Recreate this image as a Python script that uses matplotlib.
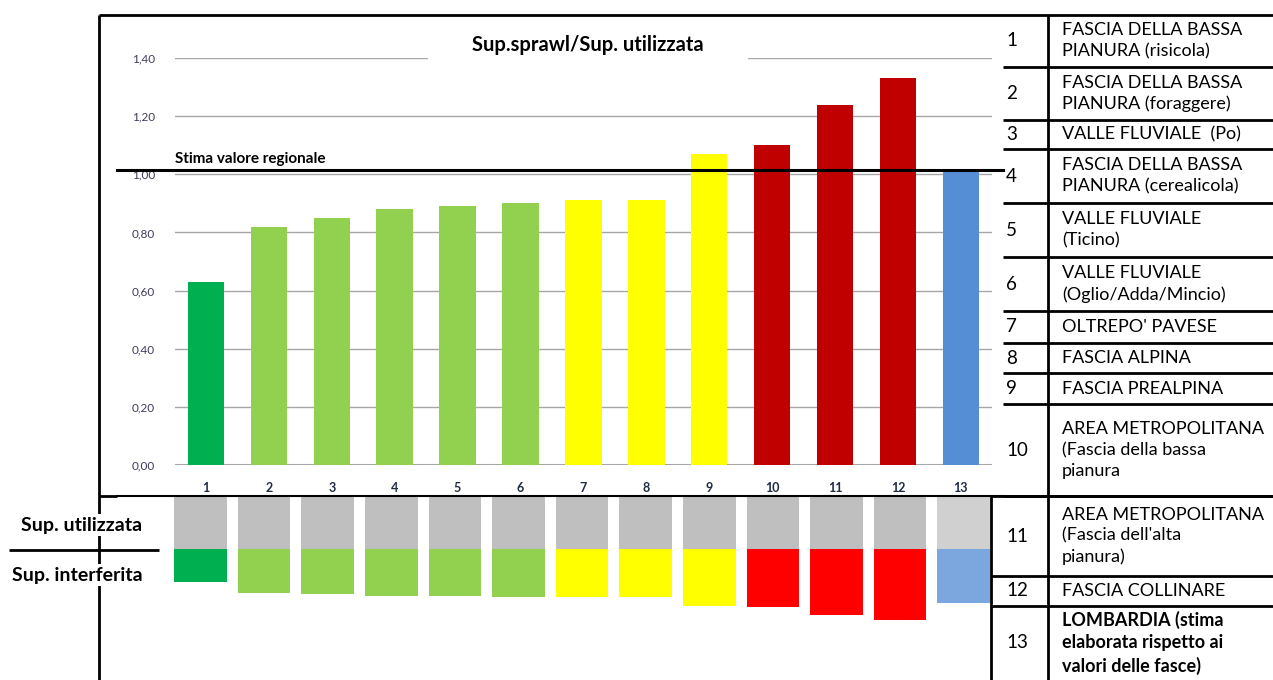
import numpy as np
import matplotlib
matplotlib.use('Agg')
import matplotlib.pyplot as plt
from matplotlib.patches import Rectangle

plt.rcParams['font.family'] = ['Lato', 'DejaVu Sans']

# data
zone_ids = [str(i) for i in range(1, 14)]
ratio = [0.63, 0.82, 0.85, 0.88, 0.89, 0.90, 0.91, 0.91, 1.07, 1.10, 1.24, 1.33, 1.01]
stima = 1.015
yticks = [0.0, 0.2, 0.4, 0.6, 0.8, 1.0, 1.2, 1.4]
bar_colors = ['#00b050'] + ['#92d050'] * 5 + ['#ffff00'] * 3 + ['#c00000'] * 3 + ['#558ed5']
block_colors = ['#00b050'] + ['#92d050'] * 5 + ['#ffff00'] * 3 + ['#ff0000'] * 3 + ['#7ba7de']
used_colors = ['#bfbfbf'] * 12 + ['#d0d0d0']
zone_names = [
    "FASCIA DELLA BASSA\nPIANURA (risicola)",
    "FASCIA DELLA BASSA\nPIANURA (foraggere)",
    "VALLE FLUVIALE  (Po)",
    "FASCIA DELLA BASSA\nPIANURA (cerealicola)",
    "VALLE FLUVIALE\n(Ticino)",
    "VALLE FLUVIALE\n(Oglio/Adda/Mincio)",
    "OLTREPO' PAVESE",
    "FASCIA ALPINA",
    "FASCIA PREALPINA",
    "AREA METROPOLITANA\n(Fascia della bassa\npianura",
    "AREA METROPOLITANA\n(Fascia dell'alta\npianura)",
    "FASCIA COLLINARE",
    "LOMBARDIA (stima\nelaborata rispetto ai\nvalori delle fasce)",
]

W, H = 1273, 680
fig = plt.figure(figsize=(W / 100, H / 100), dpi=100)


def rect(x0, y0, x1, y1):
    # pixel box (top-left origin) -> figure fraction
    return [x0 / W, 1 - y1 / H, (x1 - x0) / W, (y1 - y0) / H]


x = np.arange(1, 14)

# main bar chart
ax = fig.add_axes(rect(174.5, 58, 992.3, 465))
ax.bar(x, ratio, width=0.58, color=bar_colors, zorder=3)
ax.set_xlim(0.5, 13.5)
ax.set_ylim(0, 1.4)
ax.set_yticks(yticks)
ax.set_yticklabels([f"{v:.2f}".replace('.', ',') for v in yticks])
ax.set_xticks(x)
ax.set_xticklabels(zone_ids)
ax.yaxis.grid(True, color='#a6a6a6', lw=1, zorder=0)
ax.axhline(0, color='#a6a6a6', lw=2.2, zorder=2)
for s in ax.spines.values():
    s.set_visible(False)
ax.tick_params(axis='y', length=0, pad=14, labelsize=8.5, labelcolor='#3f3a5c')
ax.tick_params(axis='x', length=0, pad=12, labelsize=9, labelcolor='#1f2a44')
for t in ax.get_xticklabels():
    t.set_fontweight('bold')

ax.axhline(stima, xmin=-0.07, xmax=1.013, color='black', lw=2.2, clip_on=False, zorder=5)
ax.text(0.001, stima + 0.012, 'Stima valore regionale', transform=ax.get_yaxis_transform(),
        fontsize=11, fontweight='bold', va='bottom', ha='left')

# blocks: used surface (grey, up) and interfered surface (colour, down)
bx = fig.add_axes(rect(168.7, 496, 995.5, 626))
bx.bar(x, [1] * 13, width=0.83, color=used_colors)
bx.bar(x, [-v for v in ratio], width=0.83, color=block_colors)
bx.set_xlim(0.5, 13.5)
bx.set_ylim(-1.45, 1.0)
bx.axis('off')

# overlay for frame, table and labels (pixel coords)
ov = fig.add_axes([0, 0, 1, 1])
ov.set_xlim(0, W)
ov.set_ylim(H, 0)
ov.axis('off')
ov.patch.set_alpha(0)

ov.add_patch(Rectangle((428, 26), 320, 38, fc='white', ec='none', zorder=1))
ov.text(588, 45, 'Sup.sprawl/Sup. utilizzata', fontsize=14.5, fontweight='bold',
        ha='center', va='center', zorder=2)

k = dict(color='black', lw=2, solid_capstyle='butt')
ov.plot([99, W], [15, 15], **k)
ov.plot([99, 99], [15, H], **k)
ov.plot([99, 117], [496, 496], **k)
ov.plot([117, 1003], [496, 496], color='black', lw=1.5)
ov.plot([1003, W], [496, 496], **k)
ov.plot([991, 991], [496, H], **k)
ov.plot([1048, 1048], [15, H], **k)
ov.plot([9, 159], [550, 550], **k)

row_edges = [15, 67, 120, 149, 203, 257, 311, 343, 373, 404, 496, 576, 606, 680]
for y in row_edges[1:-1]:
    x0 = 1003 if y < 496 else 991
    ov.plot([x0, W], [y, y], **k)

for i, name in enumerate(zone_names):
    yc = (row_edges[i] + row_edges[i + 1]) / 2
    fw = 'bold' if i == 12 else 'normal'
    ov.text(1006, yc, zone_ids[i], fontsize=13.5, ha='left', va='center')
    ov.text(1062, yc, name, fontsize=13, ha='left', va='center', fontweight=fw,
            linespacing=1.38)

box = dict(fc='white', ec='none', pad=2)
ov.text(82, 525, 'Sup. utilizzata', fontsize=14, fontweight='bold', ha='center', va='center',
        bbox=box, zorder=5)
ov.text(77, 575, 'Sup. interferita', fontsize=14, fontweight='bold', ha='center', va='center',
        bbox=box, zorder=5)

fig.savefig('out.png', dpi=100)
